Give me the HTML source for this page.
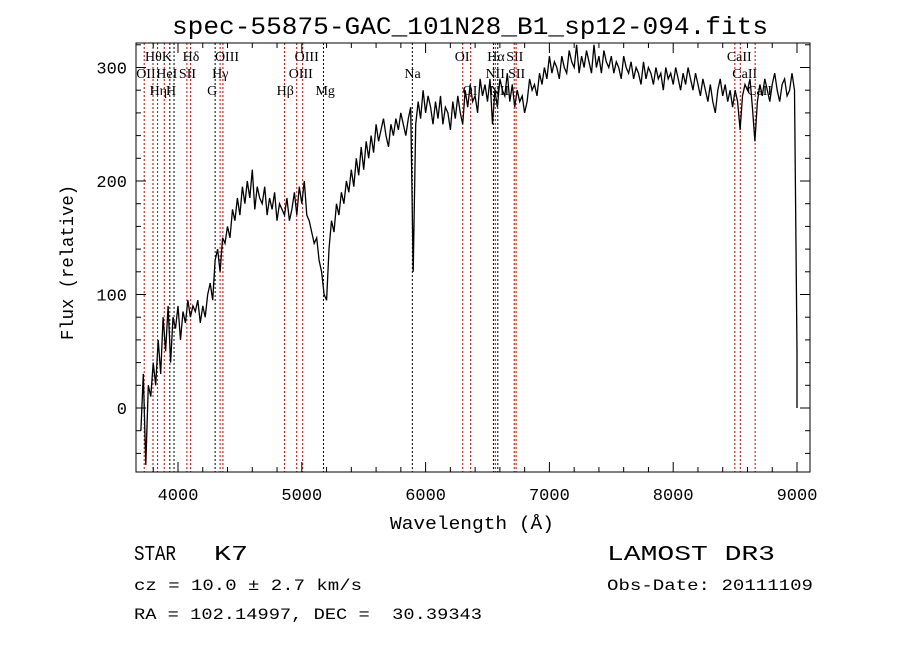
<!DOCTYPE html>
<html><head><meta charset="utf-8"><style>
body{margin:0;background:#fff}
svg{display:block}
text{font-family:"Liberation Mono",monospace;fill:#000}
.s{font-family:"Liberation Serif",serif;font-size:14px}
</style></head><body>
<svg id="chart" width="900" height="649" viewBox="0 0 900 649">
<rect width="900" height="649" fill="#fff"/>
<text x="172" y="34" font-size="25" textLength="596" lengthAdjust="spacingAndGlyphs">spec-55875-GAC_101N28_B1_sp12-094.fits</text>
<g id="lines"></g>
<g id="spec"></g>
<g id="axes"></g>
<text x="390" y="529" font-size="18" textLength="164" lengthAdjust="spacingAndGlyphs">Wavelength (Å)</text>
<text transform="translate(73,340) rotate(-90)" font-size="18" textLength="155" lengthAdjust="spacingAndGlyphs">Flux (relative)</text>
<text x="134" y="560" font-size="21" textLength="42" lengthAdjust="spacingAndGlyphs">STAR</text>
<text x="214" y="560" font-size="21" textLength="34" lengthAdjust="spacingAndGlyphs">K7</text>
<text x="134" y="590" font-size="16" textLength="228" lengthAdjust="spacingAndGlyphs">cz = 10.0 ± 2.7 km/s</text>
<text x="134" y="619" font-size="16" textLength="348" lengthAdjust="spacingAndGlyphs" xml:space="preserve">RA = 102.14997, DEC =  30.39343</text>
<text x="607" y="560" font-size="21" textLength="168" lengthAdjust="spacingAndGlyphs">LAMOST DR3</text>
<text x="607" y="590" font-size="16" textLength="206" lengthAdjust="spacingAndGlyphs">Obs-Date: 20111109</text>
</svg>
<script>
const xTicks=[4000,5000,6000,7000,8000,9000];
const yTicks=[0,100,200,300];
const specStart=3700;
const specStep=20;
const flux=[
-20,30,-50,20,10,40,20,60,30,80,
50,90,40,80,70,90,60,85,75,95,
80,90,85,95,75,90,80,100,110,95,
130,140,120,150,145,160,150,175,165,185,
170,195,180,200,185,210,175,195,185,180,
195,170,185,175,190,165,180,175,170,185,
165,175,190,170,195,180,200,170,165,155,
145,150,130,120,100,95,140,165,155,180,
170,190,180,200,190,210,195,220,205,230,
210,235,220,240,225,250,235,245,255,240,
230,250,240,255,245,260,250,240,255,265,
120,250,270,255,280,260,275,265,250,270,
255,275,250,265,260,245,270,255,275,260,
250,280,265,285,270,275,260,290,275,285,
270,290,250,280,265,290,280,275,295,270,
285,265,280,270,275,260,270,290,280,285,
275,295,285,300,290,310,295,305,300,290,
310,300,295,315,305,300,320,295,310,300,
315,305,295,320,300,310,295,315,305,300,
310,295,305,300,290,310,300,295,305,290,
300,295,285,305,290,300,295,285,300,290,
295,280,300,290,295,285,300,290,280,295,
285,300,290,280,295,285,275,290,280,270,
285,270,260,280,290,275,285,270,280,265,
280,270,245,275,285,280,290,265,235,270,
285,275,290,280,270,285,295,280,270,285,
290,275,280,295,280,50];
const lineWave=[3727,3798,3835,3889,3934,3968,4072,4102,4300,4340,4363,4861,4959,5007,5175,5893,6300,6364,6548,6563,6583,6716,6731,8498,8542,8662];
const lineName=["OII","Hθ","Hη","HeI","K","H","SII","Hδ","G","Hγ","OIII","Hβ","OIII","OIII","Mg","Na","OI","OI","NII","Hα","NII","SII","SII","CaII","CaII","CaII"];
const lineRow=[1,0,2,1,0,2,1,0,2,1,0,2,1,0,2,1,0,2,1,0,2,0,1,0,1,2];
const lineRed=[1,1,1,1,0,0,1,1,0,1,1,1,1,1,0,0,1,1,0,1,0,1,1,1,1,1];
const X0=136,X1=810,Y0=43,Y1=472;
const xs=w=>178+(w-4000)*0.1238;
const ys=f=>408-f*1.135;
const NS="http://www.w3.org/2000/svg";
function mk(t,a,p){const e=document.createElementNS(NS,t);for(const k in a)e.setAttribute(k,a[k]);p.appendChild(e);return e;}
const gl=document.getElementById('lines');
lineWave.forEach((w,i)=>{
 const x=xs(w);
 const l=mk('line',{x1:x,x2:x,y1:Y0,y2:Y1,stroke:lineRed[i]?'#c00000':'#000','stroke-width':1,'stroke-dasharray':'2,2'},gl);
 
 
 const t=mk('text',{x:x-8,y:61+lineRow[i]*17,class:'s'},gl);
 t.textContent=lineName[i];
 
 
});
const gs=document.getElementById('spec');
const cp=mk('clipPath',{id:'cp'},gs);mk('rect',{x:X0,y:Y0,width:X1-X0,height:Y1-Y0},cp);
const pts=flux.map((f,i)=>xs(specStart+i*specStep).toFixed(1)+','+ys(f).toFixed(1));
pts.push(xs(specStart+(flux.length-1)*specStep).toFixed(1)+','+ys(0).toFixed(1));
const pl=mk('polyline',{points:pts.join(' '),fill:'none',stroke:'#000','stroke-width':1.3,'clip-path':'url(#cp)'},gs);


const ga=document.getElementById('axes');
const fr=mk('rect',{x:X0,y:Y0,width:X1-X0,height:Y1-Y0,fill:'none',stroke:'#000','stroke-width':1},ga);


for(let w=3800;w<=9100;w+=200){const x=xs(w);if(x<X0||x>X1)continue;const L=(w%1000===0)?10:5;
 mk('line',{x1:x,x2:x,y1:Y1,y2:Y1-L,stroke:'#000'},ga);mk('line',{x1:x,x2:x,y1:Y0,y2:Y0+L,stroke:'#000'},ga);}
for(let f=-40;f<=320;f+=20){const y=ys(f);if(y<Y0||y>Y1)continue;const L=(f%100===0)?10:5;
 mk('line',{x1:X0,x2:X0+L,y1:y,y2:y,stroke:'#000'},ga);mk('line',{x1:X1,x2:X1-L,y1:y,y2:y,stroke:'#000'},ga);}
xTicks.forEach(v=>{const t=mk('text',{x:xs(v),y:500,'font-size':17,'text-anchor':'middle'},ga);t.textContent=v;
 
 });
yTicks.forEach(v=>{const t=mk('text',{x:127,y:ys(v)+6,'font-size':17,'text-anchor':'end'},ga);t.textContent=v;
 
 });
</script>
</body></html>
